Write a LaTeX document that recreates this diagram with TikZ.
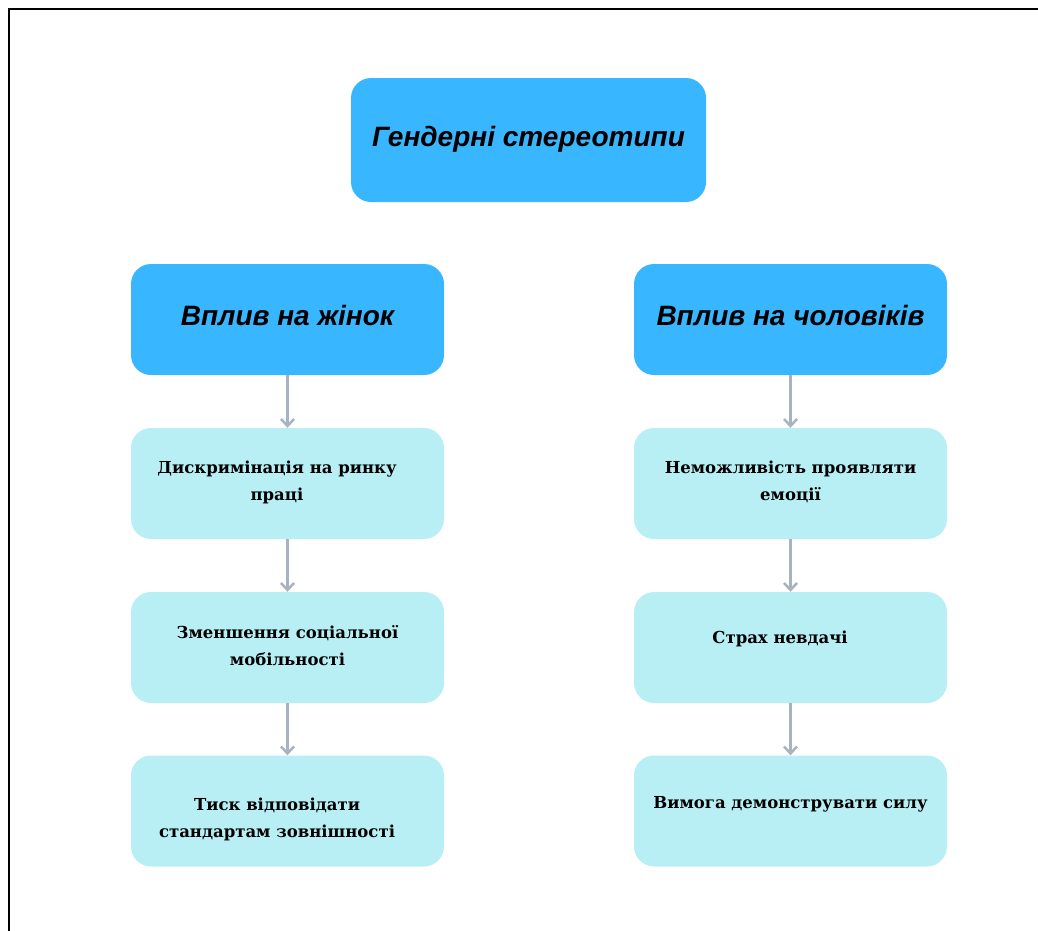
\documentclass[tikz,border=0pt]{standalone}
\usepackage{fontspec}
\setmainfont{DejaVu Serif}
\newfontfamily\headfont{Liberation Sans}
\usetikzlibrary{arrows.meta}
\definecolor{headblue}{HTML}{38B6FF}
\definecolor{childcyan}{HTML}{B8EFF5}
\definecolor{arrowgray}{HTML}{A9B3BF}
\tikzset{
  headbox/.style={draw=none, fill=headblue, rounded corners=20pt, minimum width=313pt, minimum height=111pt, inner sep=0pt},
  topbox/.style={headbox, minimum width=355pt, minimum height=124pt},
  childbox/.style={draw=none, fill=childcyan, rounded corners=20pt, minimum width=313pt, minimum height=111pt, inner sep=0pt},
  headtext/.style={font=\headfont\bfseries\itshape\fontsize{28}{32}\selectfont, inner sep=0pt},
  childtext/.style={font=\bfseries\fontsize{16.5}{27}\selectfont, align=center, inner sep=0pt},
  flow/.style={draw=arrowgray, line width=2.5pt, -{Straight Barb[length=7pt,width=13pt,line width=2.5pt]}}
}
\begin{document}
\begin{tikzpicture}[x=1pt,y=-1pt]
\useasboundingbox (0,0) rectangle (1038,930);
\draw[line width=2pt] (9,931) -- (9,9) -- (1039,9);
% boxes
\node[topbox] (top) at (528.5,140) {};
\node[headbox] (hl) at (287.5,319.5) {};
\node[headbox] (hr) at (790.5,319.5) {};
\node[childbox] (l1) at (287.5,483.5) {};
\node[childbox] (l2) at (287.5,647.5) {};
\node[childbox] (l3) at (287.5,811) {};
\node[childbox] (r1) at (790.5,483.5) {};
\node[childbox] (r2) at (790.5,647.5) {};
\node[childbox] (r3) at (790.5,811) {};
% texts
\node[headtext] (ttop) at (528.5,139) {Гендерні стереотипи};
\node[headtext] (thl) at (287.5,315) {Вплив на жінок};
\node[headtext] (thr) at (790.5,315) {Вплив на чоловіків};
\node[childtext] (tl1) at (277,482) {Дискримінація на ринку\\праці};
\node[childtext] (tl2) at (287.5,646) {Зменшення соціальної\\мобільності};
\node[childtext] (tl3) at (277,819) {Тиск відповідати\\стандартам зовнішності};
\node[childtext] (tr1) at (790.5,482) {Неможливість проявляти\\емоції};
\node[childtext] (tr2) at (780,639) {Страх невдачі};
\node[childtext] (tr3) at (790.5,804) {Вимога демонструвати силу};
% connectors
\draw[flow] (hl.south) -- (l1.north);
\draw[flow] (l1.south) -- (l2.north);
\draw[flow] (l2.south) -- (l3.north);
\draw[flow] (hr.south) -- (r1.north);
\draw[flow] (r1.south) -- (r2.north);
\draw[flow] (r2.south) -- (r3.north);
\end{tikzpicture}
\end{document}
